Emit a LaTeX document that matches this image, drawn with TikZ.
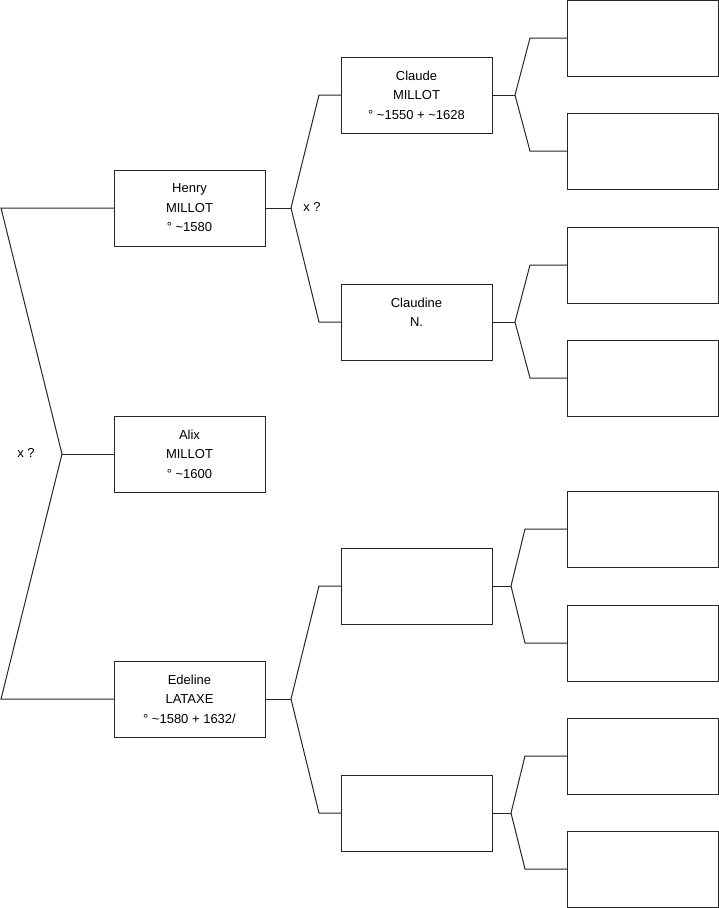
\documentclass[tikz,border=0pt]{standalone}
\usepackage{fontspec}
\setmainfont{Liberation Sans}
\usepackage{tikz}
\usetikzlibrary{positioning}

\begin{document}
\begin{tikzpicture}[
        person/.style={rectangle, draw=black!85, line width=1pt, outer sep=0pt, minimum width=151pt, minimum height=76pt, align=center, font=\fontsize{13pt}{19.5pt}\selectfont},
        link/.style={draw=black!85, line width=1pt},
        lbl/.style={font=\fontsize{13pt}{19.5pt}\selectfont, inner sep=0pt}
    ]
        \useasboundingbox (0,0) rectangle (719pt,-908pt);

        % Child
        \node[person] (alix) at (189.5pt,-454pt) {Alix\\MILLOT\\° \textasciitilde1600};

        % Parents
        \node[person, above=170pt of alix] (henry) {Henry\\MILLOT\\° \textasciitilde1580};
        \node[person, below=169pt of alix] (edeline) {Edeline\\LATAXE\\° \textasciitilde1580 + 1632/};

        % Grandparents
        \node[person, right=76pt of henry, yshift=113pt] (claude) {Claude\\MILLOT\\° \textasciitilde1550 + \textasciitilde1628};
        \node[person, right=76pt of henry, yshift=-114pt] (claudine) {Claudine\\N.\\\phantom{0}};
        \node[person, right=76pt of edeline, yshift=113pt] (edfather) {};
        \node[person, right=76pt of edeline, yshift=-114pt] (edmother) {};

        % Great-grandparents
        \node[person, right=75pt of claude, yshift=57pt] (claudefa) {};
        \node[person, right=75pt of claude, yshift=-56pt] (claudemo) {};
        \node[person, right=75pt of claudine, yshift=57pt] (claudinefa) {};
        \node[person, right=75pt of claudine, yshift=-56pt] (claudinemo) {};
        \node[person, right=75pt of edfather, yshift=57pt] (edfafa) {};
        \node[person, right=75pt of edfather, yshift=-57pt] (edfamo) {};
        \node[person, right=75pt of edmother, yshift=57pt] (edmofa) {};
        \node[person, right=75pt of edmother, yshift=-56pt] (edmomo) {};

        % Fork points
        \coordinate[left=52pt of alix] (af);
        \coordinate[right=26pt of henry] (hf);
        \coordinate[right=26pt of edeline] (ef);
        \coordinate[right=23pt of claude] (cf);
        \coordinate[right=23pt of claudine] (cnf);
        \coordinate[right=19pt of edfather] (eff);
        \coordinate[right=19pt of edmother] (emf);

        % Forks
        \draw[link] (alix) -- (af);
        \draw[link] (af) -- ([xshift=-113pt]henry.west) -- (henry);
        \draw[link] (af) -- ([xshift=-113pt]edeline.west) -- (edeline);

        \draw[link] (henry) -- (hf);
        \draw[link] (hf) -- ([xshift=-22pt]claude.west) -- (claude);
        \draw[link] (hf) -- ([xshift=-22pt]claudine.west) -- (claudine);

        \draw[link] (edeline) -- (ef);
        \draw[link] (ef) -- ([xshift=-22pt]edfather.west) -- (edfather);
        \draw[link] (ef) -- ([xshift=-22pt]edmother.west) -- (edmother);

        \draw[link] (claude) -- (cf);
        \draw[link] (cf) -- ([xshift=-37pt]claudefa.west) -- (claudefa);
        \draw[link] (cf) -- ([xshift=-37pt]claudemo.west) -- (claudemo);

        \draw[link] (claudine) -- (cnf);
        \draw[link] (cnf) -- ([xshift=-37pt]claudinefa.west) -- (claudinefa);
        \draw[link] (cnf) -- ([xshift=-37pt]claudinemo.west) -- (claudinemo);

        \draw[link] (edfather) -- (eff);
        \draw[link] (eff) -- ([xshift=-42pt]edfafa.west) -- (edfafa);
        \draw[link] (eff) -- ([xshift=-42pt]edfamo.west) -- (edfamo);

        \draw[link] (edmother) -- (emf);
        \draw[link] (emf) -- ([xshift=-42pt]edmofa.west) -- (edmofa);
        \draw[link] (emf) -- ([xshift=-42pt]edmomo.west) -- (edmomo);

        % Marriage marks
        \node[lbl] (xq1) at ([xshift=-88pt, yshift=1pt]alix.west) {x ?};
        \node[lbl] (xq2) at ([xshift=47pt, yshift=1pt]henry.east) {x ?};
    \end{tikzpicture}
\end{document}
